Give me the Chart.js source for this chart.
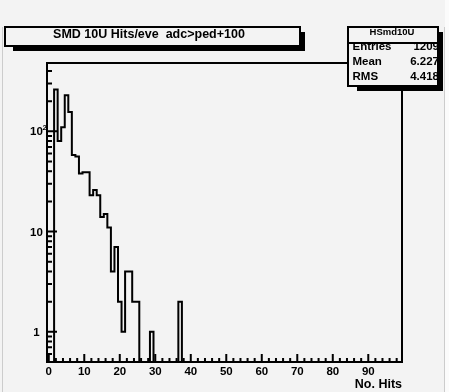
<!DOCTYPE html>
<html>
<head>
<meta charset="utf-8">
<script src="https://cdn.jsdelivr.net/npm/chart.js@4.4.0/dist/chart.umd.min.js"></script>
<style>
  html, body { margin: 0; padding: 0; background: #f3f3f3; }
  #wrap { width: 449px; height: 392px; }
</style>
</head>
<body>
<div id="wrap"><canvas id="c" width="449" height="392"></canvas></div>
<script>
// histogram content
const histTitle = 'SMD 10U Hits/eve  adc>ped+100';
const histName = 'HSmd10U';
const xTitle = 'No. Hits';
const nHits  = [2, 3, 4, 5, 6, 7, 8, 9, 10, 11, 12, 13, 14, 15, 16, 17, 18, 19, 20, 21, 22, 23, 24, 25, 29, 37];
const counts = [261, 80, 110, 229, 156, 58, 56, 38, 39, 39, 23, 26, 23, 14, 15, 11, 4, 7, 2, 1, 4, 4, 2, 2, 1, 2];
const nBins = 100;
const xRange = [-0.5, 99.5];
const yRange = [0.5, 481];
const xTicks = [0, 10, 20, 30, 40, 50, 60, 70, 80, 90];
const yTicks = [1, 10, 100];
const yTickLabels = ['1', '10', '10|2'];
const statNames = ['Entries', 'Mean', 'RMS'];
const statValues = ['1209', '6.227', '4.418'];

const bg = '#f3f3f3';
const bold = (s) => 'bold ' + s + 'px "Liberation Sans", Arial, sans-serif';

// step outline: one point per bin low edge, empty bins sit on the axis minimum (as ROOT draws them in log)
const binWidth = (xRange[1] - xRange[0]) / nBins;
const points = [];
for (let k = 0; k < nBins; k++) {
  const i = nHits.indexOf(k);
  const v = i < 0 ? 0 : counts[i];
  points.push({ x: xRange[0] + k * binWidth, y: Math.max(v, yRange[0]) });
}
points.push({ x: xRange[1], y: points[points.length - 1].y });

function pave(ctx, L, T, R, B, sx) {
  ctx.fillStyle = '#000';
  ctx.fillRect(R, T + 5, 5, B - T);
  ctx.fillRect(L + sx, B, R - L - sx + 5, 5);
  ctx.fillStyle = bg;
  ctx.fillRect(L, T, R - L, B - T);
}

const rootLook = {
  id: 'rootLook',
  beforeDraw(chart) {
    const ctx = chart.ctx;
    ctx.save();
    ctx.fillStyle = bg;
    ctx.fillRect(0, 0, chart.width, chart.height);
    ctx.fillStyle = '#fbfbfb';
    ctx.fillRect(445, 0, 4, chart.height);
    ctx.strokeStyle = '#cccccc';
    ctx.lineWidth = 1;
    ctx.beginPath();
    ctx.moveTo(2.5, 27); ctx.lineTo(2.5, chart.height);
    ctx.moveTo(444.5, 27); ctx.lineTo(444.5, chart.height);
    ctx.stroke();
    ctx.restore();
  },
  afterDraw(chart) {
    const { ctx, chartArea: a } = chart;
    const x = chart.scales.x, y = chart.scales.y;
    ctx.save();
    ctx.strokeStyle = '#000';
    ctx.fillStyle = '#000';
    ctx.lineWidth = 2;
    ctx.strokeRect(a.left, a.top, a.right - a.left, a.bottom - a.top);

    // tick marks, inside the frame
    ctx.beginPath();
    for (let v = 0; v < xRange[1]; v += 2) {
      const px = x.getPixelForValue(v);
      const len = v % 10 === 0 ? 8 : 4;
      ctx.moveTo(px, a.bottom); ctx.lineTo(px, a.bottom - len);
    }
    for (let e = -1; e <= 2; e++) {
      for (let m = 1; m <= 9; m++) {
        const v = m * Math.pow(10, e);
        if (v <= yRange[0] || v >= yRange[1]) continue;
        const py = y.getPixelForValue(v);
        const len = m === 1 ? 10 : 5;
        ctx.moveTo(a.left, py); ctx.lineTo(a.left + len, py);
      }
    }
    ctx.stroke();

    // tick labels
    ctx.font = bold(11.5);
    ctx.textAlign = 'center';
    ctx.textBaseline = 'alphabetic';
    xTicks.forEach(v => ctx.fillText(String(v), x.getPixelForValue(v), a.bottom + 13));
    yTicks.forEach((v, i) => {
      const py = y.getPixelForValue(v);
      const [base, sup] = yTickLabels[i].split('|');
      ctx.font = bold(11.5);
      ctx.textAlign = 'center';
      ctx.fillText(base, 36.5, py + 4);
      if (sup) {
        ctx.font = bold(8);
        ctx.textAlign = 'left';
        ctx.fillText(sup, 42.5, py - 1);
      }
    });
    ctx.font = bold(12.5);
    ctx.textAlign = 'right';
    ctx.fillText(xTitle, a.right, 388);

    // title pave
    pave(ctx, 5, 27, 300, 46, 8);
    ctx.strokeRect(5, 27, 295, 19);
    ctx.fillStyle = '#000';
    ctx.font = bold(12.5);
    ctx.textAlign = 'center';
    ctx.fillText(histTitle, 149, 37.5);

    // stats pave
    pave(ctx, 348, 27, 438, 86, 9);
    ctx.fillStyle = '#000';
    ctx.font = bold(9.5);
    ctx.textAlign = 'center';
    ctx.fillText(histName, 392, 35);
    ctx.save();
    ctx.beginPath();
    ctx.rect(349, 43, 88, 42);
    ctx.clip();
    ctx.font = bold(11.5);
    statNames.forEach((n, i) => {
      const by = 50 + i * 15;
      ctx.textAlign = 'left';
      ctx.fillText(n, 352.5, by);
      ctx.textAlign = 'right';
      ctx.fillText(statValues[i], 439, by);
    });
    ctx.restore();
    ctx.strokeRect(348, 27, 90, 59);
    ctx.beginPath();
    ctx.moveTo(348, 43); ctx.lineTo(438, 43);
    ctx.stroke();
    ctx.restore();
  }
};

new Chart(document.getElementById('c'), {
  type: 'line',
  data: {
    datasets: [{
      label: histName,
      data: points,
      stepped: 'before',
      borderColor: '#000',
      borderWidth: 2,
      pointRadius: 0,
      fill: false,
      tension: 0
    }]
  },
  options: {
    responsive: false,
    animation: false,
    events: [],
    layout: { padding: { left: 47, top: 63, right: 47, bottom: 30 } },
    scales: {
      x: { type: 'linear', min: xRange[0], max: xRange[1], bounds: 'data', display: false },
      y: { type: 'logarithmic', min: yRange[0], max: yRange[1], bounds: 'data', display: false }
    },
    plugins: { legend: { display: false }, tooltip: { enabled: false } }
  },
  plugins: [rootLook]
});
</script>
</body>
</html>
